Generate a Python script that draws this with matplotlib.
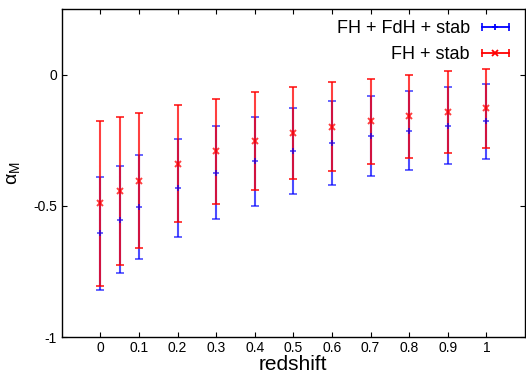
import numpy as np
import matplotlib
matplotlib.use("Agg")
import matplotlib.pyplot as plt
from matplotlib.lines import Line2D
from matplotlib.legend_handler import HandlerLine2D, HandlerTuple

plt.rcParams['font.family'] = ['Liberation Sans', 'DejaVu Sans']

# redshift bins
z = [0, 0.05, 0.1, 0.2, 0.3, 0.4, 0.5, 0.6, 0.7, 0.8, 0.9, 1.0]

# FH + FdH + stab
blue_mid = [-0.605, -0.552, -0.506, -0.432, -0.373, -0.330, -0.292, -0.261, -0.233, -0.213, -0.194, -0.178]
blue_err = [0.214, 0.205, 0.198, 0.186, 0.177, 0.170, 0.163, 0.159, 0.153, 0.150, 0.145, 0.143]

# FH + stab
red_mid = [-0.490, -0.443, -0.404, -0.339, -0.292, -0.254, -0.222, -0.198, -0.177, -0.159, -0.142, -0.129]
red_err = [0.315, 0.283, 0.257, 0.224, 0.201, 0.186, 0.175, 0.169, 0.162, 0.158, 0.155, 0.151]

labels = ["FH + FdH + stab", "FH + stab"]
xticks = [0, 0.1, 0.2, 0.3, 0.4, 0.5, 0.6, 0.7, 0.8, 0.9, 1]
xticklabels = ["0", "0.1", "0.2", "0.3", "0.4", "0.5", "0.6", "0.7", "0.8", "0.9", "1"]
yticks = [-1, -0.5, 0]
yticklabels = ["-1", "-0.5", "0"]

fig = plt.figure(figsize=(5.26, 3.75), dpi=100)
ax = fig.add_axes([0.1173, 0.101, 0.9981 - 0.1173, 0.976 - 0.101])

blue = (0, 0, 1)
red = (1, 0, 0)
ax.errorbar(z, blue_mid, yerr=blue_err, color=blue, alpha=0.7, lw=1.5, ls='none',
            capsize=3, capthick=1.3, marker='+', ms=4, mew=1.2)
ax.errorbar(z, red_mid, yerr=red_err, color=red, alpha=0.75, lw=1.5, ls='none',
            capsize=3, capthick=1.3, marker='x', ms=4, mew=1.4)

ax.set_xlim(-0.1, 1.1)
ax.set_ylim(-1, 0.25)
ax.set_xticks(xticks)
ax.set_xticklabels(xticklabels)
ax.set_yticks(yticks)
ax.set_yticklabels(yticklabels)
ax.tick_params(direction='in', length=3.5, width=0.8, top=True, right=True,
               labelsize=10, pad=3.5)
ax.tick_params(axis='x', pad=2.5)
for s in ax.spines.values():
    s.set_linewidth(1.0)

ax.set_xlabel("redshift", fontsize=15, labelpad=0)
ax.set_ylabel("α$_\\mathregular{M}$", fontsize=14, labelpad=7)

# gnuplot style legend keys: horizontal bar with end caps and centre marker
handles = []
hmap = {}
for col, mk in [(blue, '+'), (red, 'x')]:
    bar = Line2D([], [], color=col, lw=1.3, marker='|', ms=6, mew=1.2)
    mid = Line2D([], [], color=col, ls='none', marker=mk, ms=4, mew=1.3)
    hmap[bar] = HandlerLine2D(numpoints=2)
    hmap[mid] = HandlerLine2D(numpoints=1)
    handles.append((bar, mid))
hmap[tuple] = HandlerTuple(ndivide=1, pad=0)

ax.legend(handles, labels, handler_map=hmap, loc='upper right', frameon=False,
          markerfirst=False, fontsize=13, handlelength=2.1, handletextpad=0.35,
          labelspacing=0.5, borderaxespad=0.4, borderpad=0.2)

fig.savefig("out.png", dpi=100)
